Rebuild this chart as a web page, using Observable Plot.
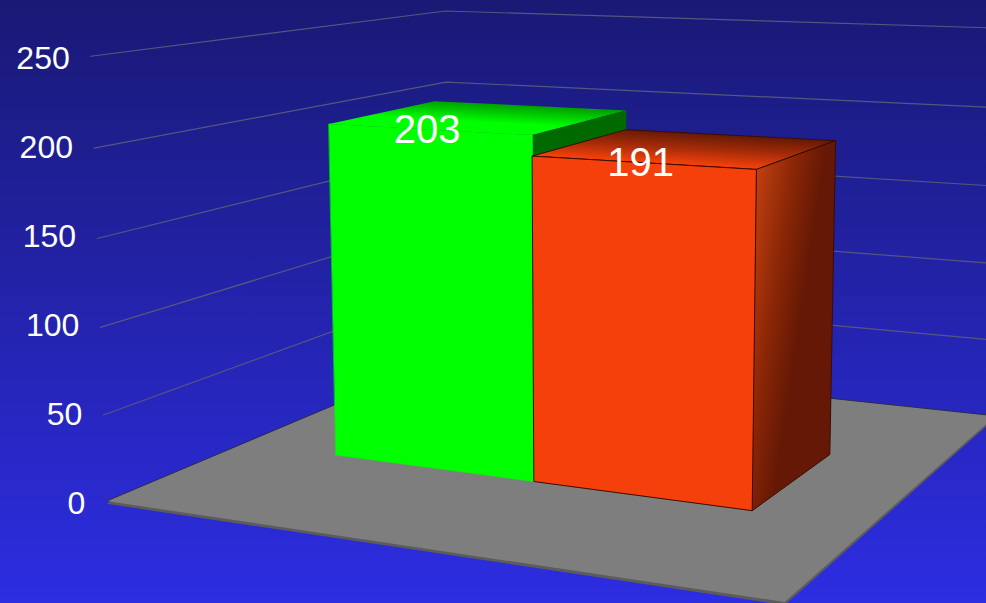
<!DOCTYPE html>
<html><head><meta charset="utf-8">
<style>html,body{margin:0;padding:0;background:#2d2de2}svg{display:block}</style>
<script src="https://cdn.jsdelivr.net/npm/d3@7"></script>
<script src="https://cdn.jsdelivr.net/npm/@observablehq/plot@0.6"></script>
</head><body><div id="c"></div>
<script>
const barValues=[203,191];
const tickValues=[0,50,100,150,200,250];
const floorX=[-0.48,2.49];
const floorZ=[-1.09,2.03];
const slabDepth=-1.6;
const [XL,XR]=floorX,[ZF,ZB]=floorZ;
// camera calibration for the bars: world [col, depth, value] -> picture
const barWorld=[[0,0,0],[0,0,203],[1,0,0],[1,0,203],[0,1,203],[1,1,203],[1,0,191],[2,0,191],[2,0,0],[1,1,191],[2,1,191],[2,1,0]];
const barPic=[[336,455],[329,122.5],[533,481],[531,136],[433,101],[626,110],[533,155],[756,168],[751,511],[626,129],[835,141],[830,453]];
// camera calibration for the floor and the walls
const wallWorld=[[XL,ZF,0],[XL,ZF,50],[XL,ZF,100],[XL,ZF,150],[XL,ZF,200],[XL,ZF,250],[XL,ZB,0],[XL,ZB,200],[XL,ZB,250],[XR,ZB,0],[XR,ZB,50],[XR,ZB,100],[XR,ZB,150],[XR,ZB,200],[XR,ZB,250],[XR,ZF,0]];
const wallPic=[[107,502],[103,414],[100,326],[97,237],[93,147],[90,56],[446,358],[445,81],[445,11],[995,414],[998.5,340],[1002,263],[1006,185],[1010,108],[1013,30],[783,603]];
function solve(A,b){const n=b.length;const M=A.map((r,i)=>[...r,b[i]]);
 for(let i=0;i<n;i++){let q=i;for(let k=i+1;k<n;k++)if(Math.abs(M[k][i])>Math.abs(M[q][i]))q=k;[M[i],M[q]]=[M[q],M[i]];
  for(let k=0;k<n;k++)if(k!==i){const f=M[k][i]/M[i][i];for(let j=i;j<=n;j++)M[k][j]-=f*M[i][j];}}
 return M.map((r,i)=>r[n]/r[i]);}
function camera(world,pic){const rows=[],rhs=[];
 world.forEach(([X,Z,V],i)=>{const v=V/100,u=pic[i][0]/1000,w=pic[i][1]/1000;
  rows.push([X,Z,v,1,0,0,0,0,-u*X,-u*Z,-u*v]);rhs.push(u);
  rows.push([0,0,0,0,X,Z,v,1,-w*X,-w*Z,-w*v]);rhs.push(w);});
 const ATA=d3.range(11).map(i=>d3.range(11).map(j=>d3.sum(rows,r=>r[i]*r[j])));
 const ATb=d3.range(11).map(i=>d3.sum(rows,(r,k)=>r[i]*rhs[k]));
 const p=solve(ATA,ATb);
 return (X,Z,V)=>{const v=V/100,d=p[8]*X+p[9]*Z+p[10]*v+1;
  return {x:1000*(p[0]*X+p[1]*Z+p[2]*v+p[3])/d,y:1000*(p[4]*X+p[5]*Z+p[6]*v+p[7])/d};};}
const project=camera(barWorld,barPic),wall=camera(wallWorld,wallPic);

const [gv,rv]=barValues;
function gradient(id,a,b,stops){return `<linearGradient id="${id}" gradientUnits="userSpaceOnUse" x1="${a.x}" y1="${a.y}" x2="${b.x}" y2="${b.y}">`+
 stops.map(([o,c])=>`<stop offset="${o}" stop-color="${c}"/>`).join("")+`</linearGradient>`;}
function depthVector(x0,x1,v){const back=project((x0+x1)/2,1,v),f0=project(x0,0,v),f1=project(x1,0,v);
 const ex=f1.x-f0.x,ey=f1.y-f0.y,t=((back.x-f0.x)*ex+(back.y-f0.y)*ey)/(ex*ex+ey*ey);
 return [back,{x:f0.x+t*ex,y:f0.y+t*ey}];}
const [ga,gb]=depthVector(0,1,gv),[ra,rb]=depthVector(1,2,rv);
const sideA=project(2,0,rv),sideB={x:sideA.x+66,y:sideA.y+10};
const defs=()=>{const e=document.createElementNS("http://www.w3.org/2000/svg","defs");
 e.innerHTML=gradient("gTop",ga,gb,[[0,"#00a000"],[0.65,"#00ff00"]])+
  gradient("rTop",ra,rb,[[0,"#651a05"],[0.5,"#a82c08"],[0.95,"#f3400b"]])+
  gradient("rSide",sideA,sideB,[[0,"#c0400f"],[0.55,"#8a2606"],[1,"#641805"]]);
 return e;};
const poly=(pts,o,cam=project)=>Plot.line(pts.map(a=>cam(...a)),{x:"x",y:"y",curve:"linear-closed",stroke:"none",...o});
const rect=(x0,x1,z0,z1,v)=>[[x0,z0,v],[x1,z0,v],[x1,z1,v],[x0,z1,v]];
const front=(x0,x1,v)=>[[x0,0,0],[x1,0,0],[x1,0,v],[x0,0,v]];
const side=(x,v)=>[[x,0,0],[x,1,0],[x,1,v],[x,0,v]];
const edge="#3a0c02";
const gridPaths=tickValues.filter(t=>t>0).map(t=>[[XL,ZF,t],[XL,ZB,t],[XR,ZB,t]]);
const labelY=d3.scaleLinear([0,250],[503,58]);
const labelPts=tickValues.map(t=>({x:wall(XL,ZF,t).x,y:labelY(t),t}));
const barLabels=barValues.map((v,i)=>({...project(i+0.5,0,v),v}));
const plot=Plot.plot({width:986,height:603,margin:0,x:{domain:[0,986],axis:null},y:{domain:[603,0],axis:null},
 style:{background:"linear-gradient(#191975,#2d2de2)",fontFamily:"'Liberation Sans',Arial,sans-serif"},
 marks:[
  defs,
  poly(rect(XL,XR,ZF,ZB,slabDepth),{fill:"#5c5c5c"},wall),
  poly(rect(XL,XR,ZF,ZB,0),{fill:"#7e7e7e"},wall),
  Plot.line([[XL,ZF,0],[XL,ZB,0],[XR,ZB,0]].map(a=>wall(...a)),{x:"x",y:"y",stroke:"#2a2a4a",strokeWidth:1}),
  ...gridPaths.map(g=>Plot.line(g.map(a=>wall(...a)),{x:"x",y:"y",stroke:"#56567e",strokeWidth:1.2})),
  poly(rect(0,1,0,1,gv),{fill:"url(#gTop)"}),
  poly(side(1,gv),{fill:"#006a00"}),
  poly(front(0,1,gv),{fill:"#00ff00",stroke:"#00ff00",strokeWidth:0.6}),
  poly(rect(1,2,0,1,rv),{fill:"url(#rTop)",stroke:edge,strokeWidth:1}),
  poly(side(2,rv),{fill:"url(#rSide)",stroke:edge,strokeWidth:1}),
  poly(front(1,2,rv),{fill:"#f5400b",stroke:edge,strokeWidth:1}),
  Plot.text(labelPts,{x:"x",y:"y",text:d=>String(d.t),textAnchor:"end",dx:-21,fill:"white",fontSize:32}),
  Plot.text(barLabels,{x:"x",y:"y",text:d=>String(d.v),dx:-1,dy:0.5,fill:"white",fontSize:40})
 ]});
document.getElementById("c").append(plot);
</script></body></html>
